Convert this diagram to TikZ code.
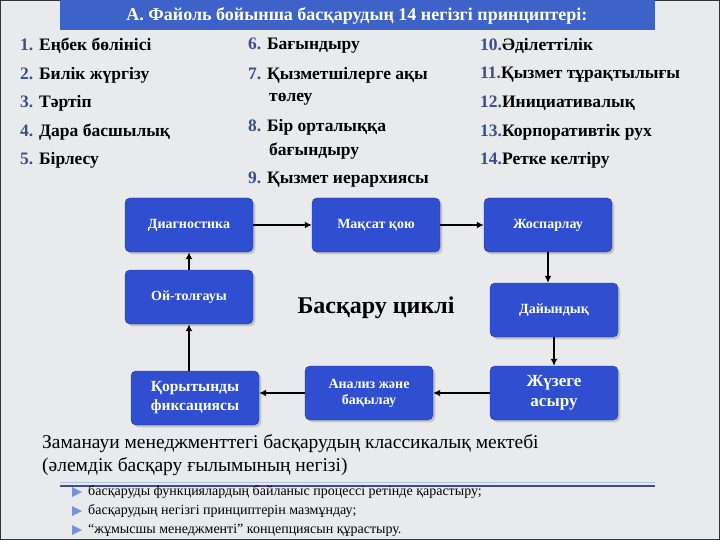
\documentclass[tikz,border=0pt]{standalone}
\usepackage{fontspec}
\setmainfont{Liberation Serif}
\usetikzlibrary{arrows.meta,shadows}
\definecolor{bannerblue}{HTML}{3D63C9}
\definecolor{boxblue}{HTML}{2F4FD0}
\definecolor{numblue}{HTML}{3B4E8C}
\definecolor{bg}{HTML}{E9EAEC}
\tikzset{
 box/.style={draw=boxblue!70!black,fill=boxblue,rounded corners=5pt,minimum width=128pt,minimum height=54pt,text=white,font=\bfseries\fontsize{14}{16}\selectfont,align=center,drop shadow={opacity=0.35}},
 item/.style={anchor=west,font=\bfseries\fontsize{17.5}{19}\selectfont,inner sep=0pt},
 arr/.style={-{Latex[length=7pt,width=7pt]},line width=1.5pt},
 bul/.style={anchor=west,font=\fontsize{14}{16}\selectfont,inner sep=0pt},
}
\newcommand{\nb}[1]{\textcolor{numblue}{#1}}
\begin{document}
\begin{tikzpicture}[x=1pt,y=-1pt]
\useasboundingbox (0,0) rectangle (720,540);
\fill[bg] (0,0) rectangle (720,540);
\draw[line width=2pt,black!80] (0,0) rectangle (720,540);
\fill[bannerblue] (60,0) rectangle (655,30);
\node[text=white,font=\bfseries\fontsize{18}{20}\selectfont] (title) at (357,16) {А. Файоль бойынша басқарудың 14 негізгі принциптері:};
\node[item] (a1) at (20,46) {\nb{1.} Еңбек бөлінісі};
\node[item] (a2) at (20,75) {\nb{2.} Билік жүргізу};
\node[item] (a3) at (20,103) {\nb{3.} Тәртіп};
\node[item] (a4) at (20,132) {\nb{4.} Дара басшылық};
\node[item] (a5) at (20,160) {\nb{5.} Бірлесу};
\node[item] (b6) at (248,46) {\nb{6.} Бағындыру};
\node[item] (b7) at (248,75) {\nb{7.} Қызметшілерге ақы};
\node[item] (b7b) at (269,99) {төлеу};
\node[item] (b8) at (248,127) {\nb{8.} Бір орталыққа};
\node[item] (b8b) at (269,151) {бағындыру};
\node[item] (b9) at (248,180) {\nb{9.} Қызмет иерархиясы};
\node[item] (c10) at (480,46) {\nb{10.}Әділеттілік};
\node[item] (c11) at (480,75) {\nb{11.}Қызмет тұрақтылығы};
\node[item] (c12) at (480,103) {\nb{12.}Инициативалық};
\node[item] (c13) at (480,132) {\nb{13.}Корпоративтік рух};
\node[item] (c14) at (480,160) {\nb{14.}Ретке келтіру};
\node[box] (d) at (189,225) {Диагностика};
\node[box] (m) at (376,225) {Мақсат қою};
\node[box] (j) at (548,225) {Жоспарлау};
\node[box] (o) at (189,297) {Ой-толғауы};
\node[box] (dy) at (554,310) {Дайындық};
\node[box,font=\bfseries\fontsize{17}{20}\selectfont] (zh) at (554,393) {Жүзеге\\асыру};
\node[box] (an) at (369,393) {Анализ және\\бақылау};
\node[box,font=\bfseries\fontsize{15.5}{19}\selectfont] (k) at (195,398) {Қорытынды\\фиксациясы};
\node[font=\bfseries\fontsize{24}{28}\selectfont] (cyc) at (376,308) {Басқару циклі};
\draw[arr] (d) -- (m);
\draw[arr] (m) -- (j);
\draw[arr] (j) -- (j.south |- dy.north);
\draw[arr] (dy) -- (dy.south |- zh.north);
\draw[arr] (zh) -- (an);
\draw[arr] (an) -- (k.east |- an.west);
\draw[arr] (k.north -| o.south) -- (o);
\draw[arr] (o) -- (d);
\node[anchor=west,inner sep=0pt,font=\fontsize{19.5}{22}\selectfont] (t1) at (42,444) {Заманауи менеджменттегі басқарудың классикалық мектебі};
\node[anchor=west,inner sep=0pt,font=\fontsize{19.5}{22}\selectfont] (t2) at (42,467) {(әлемдік басқару ғылымының негізі)};
\draw[line width=2pt,numblue] (60,486) -- (655,486);
\draw[line width=1pt,bannerblue!40] (60,482) -- (655,482);
\foreach \y/\t [count=\i] in {492/{басқаруды функциялардың байланыс процессі ретінде қарастыру;},511/{басқарудың негізгі принциптерін мазмұндау;},530/{“жұмысшы менеджменті” концепциясын құрастыру.}}{
 \fill[bannerblue!70] (72,\y-5) -- (82,\y) -- (72,\y+5) -- cycle;
 \node[bul] (bl\i) at (88,\y) {\t};
}
\end{tikzpicture}
\end{document}
